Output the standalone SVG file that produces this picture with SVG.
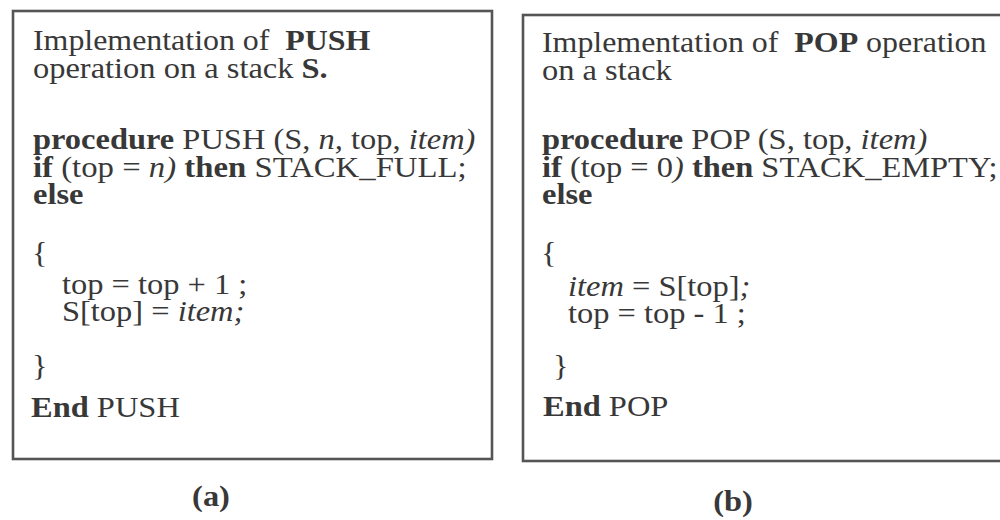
<svg xmlns="http://www.w3.org/2000/svg" width="1000" height="520" viewBox="0 0 1000 520">
<style>
.box{fill:#fff;stroke:#555;stroke-width:2.6}
text{font-family:"Liberation Serif","Times New Roman",serif;font-size:29px;fill:#383838}
.b{font-weight:bold}
.i{font-style:italic}
.cap{font-weight:bold;text-anchor:middle}
</style>
<rect width="1000" height="520" fill="#fff"/>
<g id="push">
<rect class="box" x="13" y="11" width="479" height="448"/>
<text transform="translate(33,50) scale(1.1,1)">Implementation of&#160; <tspan class="b">PUSH</tspan></text>
<text transform="translate(33,78) scale(1.12,1)">operation on a stack <tspan class="b">S.</tspan></text>
<text transform="translate(33,149) scale(1.12,1)"><tspan class="b">procedure</tspan> PUSH (S, <tspan class="i">n,</tspan> top, <tspan class="i">item)</tspan></text>
<text transform="translate(33,177) scale(1.13,1)"><tspan class="b">if</tspan> (top = <tspan class="i">n)</tspan> <tspan class="b">then</tspan> STACK_FULL;</text>
<text transform="translate(33,204) scale(1.12,1)"><tspan class="b">else</tspan></text>
<text transform="translate(32,262) scale(1.12,1)">{</text>
<text transform="translate(62,294) scale(1.12,1)">top = top + 1 ;</text>
<text transform="translate(62,321) scale(1.12,1)">S[top] = <tspan class="i">item;</tspan></text>
<text transform="translate(32,375) scale(1.12,1)">}</text>
<text transform="translate(31,417) scale(1.12,1)"><tspan class="b">End</tspan> PUSH</text>
</g>
<g id="pop">
<rect class="box" x="523" y="15" width="490" height="446"/>
<text transform="translate(542,52) scale(1.1,1)">Implementation of&#160; <tspan class="b">POP</tspan> operation</text>
<text transform="translate(542,80) scale(1.12,1)">on a stack</text>
<text transform="translate(542,149) scale(1.12,1)"><tspan class="b">procedure</tspan> POP (S, top, <tspan class="i">item)</tspan></text>
<text transform="translate(542,177) scale(1.12,1)"><tspan class="b">if</tspan> (top = 0<tspan class="i">)</tspan> <tspan class="b">then</tspan> STACK_EMPTY;</text>
<text transform="translate(542,204) scale(1.12,1)"><tspan class="b">else</tspan></text>
<text transform="translate(541,262) scale(1.12,1)">{</text>
<text transform="translate(568,296) scale(1.12,1)"><tspan class="i">item</tspan> = S[top]<tspan class="i">;</tspan></text>
<text transform="translate(568,323) scale(1.12,1)">top = top - 1 ;</text>
<text transform="translate(553,375) scale(1.12,1)">}</text>
<text transform="translate(543,416) scale(1.12,1)"><tspan class="b">End</tspan> POP</text>
</g>
<g id="captions">
<text class="cap" transform="translate(211,506) scale(1.12,1)">(a)</text>
<text class="cap" transform="translate(733,511) scale(1.12,1)">(b)</text>
</g>
</svg>
